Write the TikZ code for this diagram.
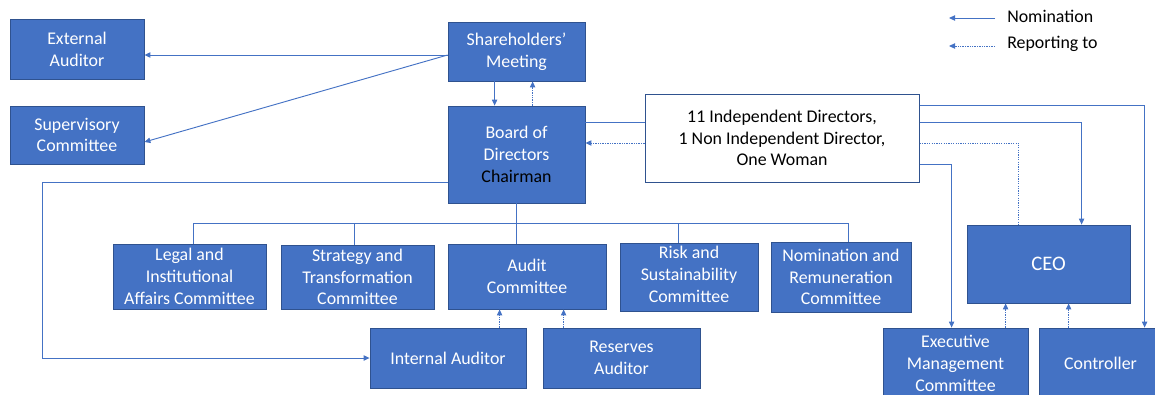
\documentclass[tikz,border=0pt]{standalone}
\usepackage{fontspec}
\setmainfont{Carlito}
\usetikzlibrary{arrows.meta,calc}
\definecolor{boxblue}{HTML}{4472C4}
\definecolor{boxedge}{HTML}{2F528F}
\definecolor{linkblue}{HTML}{4472C4}
\newcommand\placebox[7][box]{\node[#1,minimum width={(#5-#3)*0.75pt},minimum height={(#6-#4)*0.75pt}] (#2) at ({(#3+#5)/2},{(#4+#6)/2}) {#7};}
\begin{document}
\begin{tikzpicture}[x=0.75pt,y=-0.75pt,
  box/.style={draw=boxedge, line width=0.6pt, fill=boxblue, text=white, align=center, inner sep=0pt, font=\fontsize{13.4}{16.3}\selectfont},
  wbox/.style={box, fill=white, text=black, line width=0.75pt},
  ceobox/.style={box, font=\fontsize{15.5}{18}\selectfont},
  link/.style={draw=linkblue, line width=0.7pt},
  nom/.style={link, -{Triangle[length=4.5pt,width=4pt]}},
  repline/.style={link, dash pattern=on 1pt off 0.8pt},
  rep/.style={repline, -{Triangle[length=4.5pt,width=4pt]}},
  legtext/.style={anchor=west, inner sep=0pt, font=\fontsize{13.4}{16.3}\selectfont}
]
\useasboundingbox (0,0) rectangle (1155,394);

% boxes
\placebox{ext}{10}{19}{144}{79}{External\\Auditor}
\placebox{sup}{10}{106}{144}{164}{Supervisory\\Committee}
\placebox{sh}{448}{22}{585}{81}{Shareholders’\\Meeting}
\placebox{bod}{448}{106}{585}{203}{Board of\\Directors\\\textcolor{black}{Chairman}}
\placebox[wbox]{ind}{645}{94}{919}{182}{11 Independent Directors,\\1 Non Independent Director,\\One Woman}
\placebox{legal}{113}{244}{266}{309}{Legal and\\Institutional\\Affairs Committee}
\placebox{strat}{281}{245}{434}{309}{Strategy and\\Transformation\\Committee}
\placebox{audit}{448}{244}{606}{309}{Audit\\Committee}
\placebox{risk}{620}{243}{758}{311}{Risk and\\Sustainability\\Committee\\[-12pt]}
\placebox{nomr}{771}{242}{911}{312}{Nomination and\\Remuneration\\Committee}
\placebox{ia}{370}{328}{526}{388}{Internal Auditor}
\placebox{ra}{543}{328}{700}{388}{Reserves\\Auditor}
\placebox[ceobox]{ceo}{967}{225}{1130}{303}{CEO}
\placebox{exec}{883}{328}{1028}{399}{Executive\\Management\\Committee}
\placebox{ctrl}{1039}{328}{1162}{399}{Controller}

% shareholders connectors
\draw[nom] ($(sh.west)+(0,3.5)$) -- ($(ext.east)+(0,6)$);
\draw[nom] ($(sh.west)+(0,3.5)$) -- ($(sup.east)+(0,7)$);
\draw[nom] ($(sh.south west)+(47,0)$) -- ($(bod.north west)+(47,0)$);
\draw[rep] ($(bod.north west)+(85,0)$) -- ($(sh.south west)+(85,0)$);

% independent directors to board
\coordinate (i1) at ($(ind.west)+(0,-16)$);
\coordinate (i2) at ($(ind.west)+(0,5)$);
\draw[link] (i1) -- (i1 -| bod.east);
\draw[rep] (i2) -- (i2 -| bod.east);

% board to internal auditor
\coordinate (b1) at ($(bod.west)+(0,27.5)$);
\draw[nom] (b1) -- ++(-405,0) |- (ia.west);

% committees bus
\coordinate (dL) at ($(legal.north west)+(81,0)$);
\coordinate (dS) at ($(strat.north west)+(74,0)$);
\coordinate (dR) at ($(risk.north west)+(59,0)$);
\coordinate (dN) at ($(nomr.north west)+(78,0)$);
\coordinate (bus) at ($(bod.south)+(0,20)$);
\draw[link] (dL) -- (dL |- bus) -- (dN |- bus) -- (dN);
\draw[link] (dS) -- (dS |- bus);
\draw[link] (dR) -- (dR |- bus);
\draw[link] (bod.south) -- (bod.south |- audit.north);

% auditors report to audit committee
\coordinate (ia1) at ($(ia.north west)+(130,0)$);
\coordinate (ra1) at ($(ra.north west)+(21,0)$);
\draw[rep] (ia1) -- (ia1 |- audit.south);
\draw[rep] (ra1) -- (ra1 |- audit.south);

% independent directors to the right
\coordinate (r1) at ($(ind.east)+(0,-33)$);
\coordinate (r2) at ($(ind.east)+(0,-16)$);
\coordinate (r3) at ($(ind.east)+(0,5)$);
\coordinate (r4) at ($(ind.east)+(0,26)$);
\draw[nom] (r1) -| ($(ctrl.north west)+(106,0)$);
\draw[nom] (r2) -| ($(ceo.north west)+(115,0)$);
\draw[repline] (r3) -| ($(ceo.north west)+(52,0)$);
\draw[nom] (r4) -| ($(exec.north west)+(69,0)$);

% reporting to CEO
\coordinate (e1) at ($(exec.north west)+(123,0)$);
\coordinate (c1) at ($(ctrl.north west)+(30,0)$);
\draw[rep] (e1) -- (e1 |- ceo.south);
\draw[rep] (c1) -- (c1 |- ceo.south);

% legend
\coordinate (l1s) at (995,18);
\coordinate (l1e) at (949,18);
\coordinate (l2s) at (995,46);
\coordinate (l2e) at (949,46);
\draw[nom] (l1s) -- (l1e);
\draw[rep] (l2s) -- (l2e);
\node[legtext] (lt1) at (1007,16) {Nomination};
\node[legtext] (lt2) at (1007,44) {Reporting to};
\end{tikzpicture}
\end{document}
